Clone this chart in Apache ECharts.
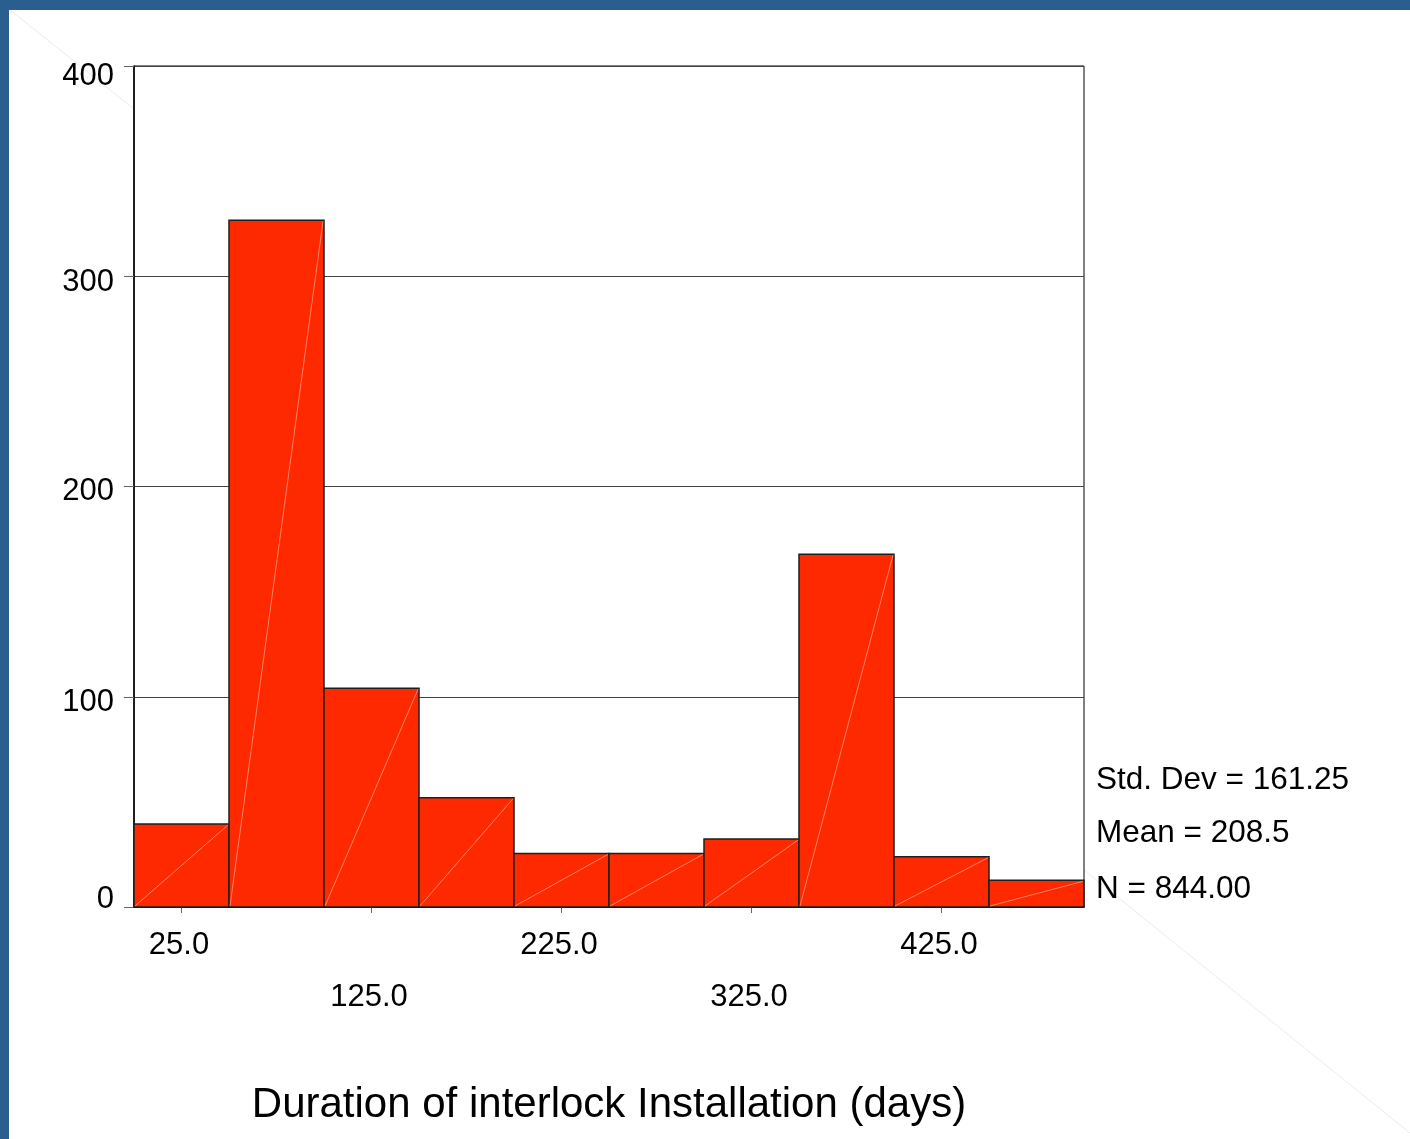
<!DOCTYPE html>
<html>
<head>
<meta charset="utf-8">
<script src="https://cdn.jsdelivr.net/npm/echarts@6/dist/echarts.min.js"></script>
<style>
html,body{margin:0;padding:0;background:#fff;}
#chart{width:1410px;height:1139px;}
</style>
</head>
<body>
<div id="chart"></div>
<script>
// Histogram bins (midpoints, days)
const binLabels = ['25.0','75.0','125.0','175.0','225.0','275.0','325.0','375.0','425.0','475.0'];
// Frequencies
const frequencies = [39.5, 326.6, 104, 52, 25.5, 25.5, 32.3, 167.8, 23.9, 12.7];
// Y tick values
const yTicks = [0, 100, 200, 300, 400];
// Summary statistics
const statLines = ['Std. Dev = 161.25', 'Mean = 208.5', 'N = 844.00'];
const axisTitle = 'Duration of interlock Installation (days)';

const FONT = '"Liberation Sans", Arial, sans-serif';
const chart = echarts.init(document.getElementById('chart'), null, {renderer:'canvas'});

const yShift = {0:[0,0,16,0], 100:[12,0,0,0], 200:[10,0,0,0], 300:[12,0,0,0], 400:[20,0,0,0]};
const richY = {};
yTicks.forEach(v => { richY['s'+v] = {padding: yShift[v], fontSize:31, fontFamily:FONT, color:'#000'}; });

const option = {
  backgroundColor:'#fff',
  animation:false,
  grid:{left:134, right:326, top:66, bottom:232, show:true, borderColor:'#000', borderWidth:1, backgroundColor:'#fff'},
  xAxis:{
    type:'category',
    data:binLabels,
    boundaryGap:true,
    axisLine:{lineStyle:{color:'#000', width:1.5}},
    axisTick:{show:true, interval:1, alignWithLabel:true, length:6, lineStyle:{color:'#666'}},
    axisLabel:{
      interval:1, margin:12, fontSize:31, lineHeight:52, color:'#000', fontFamily:FONT,
      padding:[0,5,0,0],
      formatter:(val, idx) => (idx % 4 === 2 ? '\n' + val : val)
    },
    name:axisTitle,
    nameLocation:'middle',
    nameGap:198,
    nameTextStyle:{fontSize:42, color:'#000', fontFamily:FONT, verticalAlign:'middle'}
  },
  yAxis:{
    type:'value', min:0, max:400, interval:100,
    axisLine:{show:true, lineStyle:{color:'#000', width:1.5}},
    axisTick:{show:true, length:10, lineStyle:{color:'#666'}},
    splitLine:{show:true, lineStyle:{color:'#444', width:1}},
    axisLabel:{margin:20, fontSize:31, color:'#000', fontFamily:FONT,
      formatter:v => '{s'+v+'|'+v+'}', rich:richY}
  },
  series:[{
    type:'custom',
    data:frequencies.map((v,i)=>[i,v]),
    renderItem:(params, api) => {
      const idx = api.value(0), v = api.value(1);
      const top = api.coord([idx, v]);
      const bot = api.coord([idx, 0]);
      const w = api.size([1, 0])[0];
      const x0 = top[0] - w/2;
      return {type:'group', children:[
        {type:'rect', shape:{x:x0, y:top[1], width:w, height:bot[1]-top[1]},
         style:{fill:'#ff2900', stroke:'#1e1e1e', lineWidth:1.5}},
        {type:'line', shape:{x1:x0+1, y1:bot[1]-1, x2:x0+w-1, y2:top[1]+1},
         style:{stroke:'rgba(255,160,140,0.75)', lineWidth:1}}
      ]};
    },
    z:3
  }],
  graphic:[
    {type:'line', z:-1, shape:{x1:10, y1:10, x2:134, y2:109}, style:{stroke:'#ececec', lineWidth:1}},
    {type:'line', z:-1, shape:{x1:1084, y1:870, x2:1410, y2:1133}, style:{stroke:'#ececec', lineWidth:1}},
    {type:'rect', shape:{x:0, y:0, width:1410, height:10}, style:{fill:'#2a5e90'}},
    {type:'rect', shape:{x:0, y:0, width:9, height:1139}, style:{fill:'#2a5e90'}},
    ...statLines.map((t,i)=>({type:'text', left:1096, top:[764,817,873][i],
      style:{text:t, fontSize:31.5, fontFamily:FONT, fill:'#000'}}))
  ]
};
chart.setOption(option);
</script>
</body>
</html>
